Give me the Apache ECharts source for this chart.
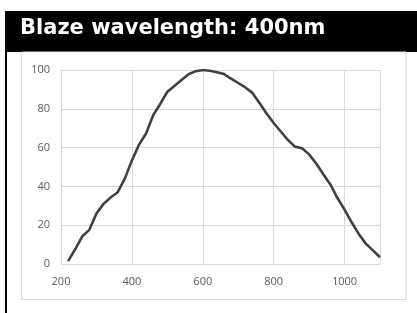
<!DOCTYPE html>
<html><head><meta charset="utf-8">
<script src="https://cdn.jsdelivr.net/npm/echarts@6/dist/echarts.min.js"></script>
<style>html,body{margin:0;padding:0;background:#fff}#c{width:417px;height:313px}</style>
</head><body><div id="c"></div>
<script>
const titleText = "Blaze wavelength: 400nm";
const wavelengths = [220,240,260,280,300,320,340,360,380,400,420,440,460,480,500,520,540,560,580,600,620,640,660,680,700,720,740,760,780,800,820,840,860,880,900,920,940,960,980,1000,1020,1040,1060,1080,1100];
const efficiency = [1.5,7.6,14.3,17.6,26,31,34.3,37,44,53.3,61.5,67.3,76.7,82.5,88.8,91.8,94.8,97.8,99.4,100,99.6,98.8,97.9,95.5,93.3,91,88.2,83,77.6,72.7,68.3,64,60.5,59.7,56.5,51.8,46.3,41,34,28,21.5,15.5,10.5,7,3.5];
const xTicks = [200,400,600,800,1000];
const yTicks = [0,20,40,60,80,100];

const chart = echarts.init(document.getElementById('c'), null, {renderer:'canvas'});
const font = '"Open Sans", sans-serif';
chart.setOption({
  animation:false,
  backgroundColor:'#fff',
  graphic:[
    {type:'rect', shape:{x:5,y:11,width:412,height:41}, style:{fill:'#000'}, z:0},
    {type:'rect', shape:{x:5,y:11,width:2,height:302}, style:{fill:'#000'}, z:0},
    {type:'rect', shape:{x:21.5,y:52,width:384.5,height:247.5}, style:{fill:'#fff',stroke:'#d9d9d9',lineWidth:1}, z:0},
    {type:'text', x:20, y:29, style:{text:titleText, fill:'#fff', font:'bold 21px "DejaVu Sans", sans-serif', verticalAlign:'middle'}, z:10}
  ],
  grid:{left:61,right:37,top:70,bottom:49,show:true,borderWidth:0,
    backgroundColor:new echarts.graphic.LinearGradient(0,0,0,1,[{offset:0,color:'#ffffff'},{offset:1,color:'#efefef'}])},
  xAxis:{type:'value',min:200,max:1100,interval:200,
    axisLine:{show:false},axisTick:{show:false},
    splitLine:{show:true,lineStyle:{color:'#d9d9d9',width:1}},
    axisLabel:{color:'#595959',fontSize:11,fontFamily:font,margin:12,showMaxLabel:false,
      formatter:v=>xTicks.includes(v)?String(v):''}},
  yAxis:{type:'value',min:0,max:100,interval:20,
    axisLine:{show:false},axisTick:{show:false},
    splitLine:{show:true,lineStyle:{color:'#d9d9d9',width:1}},
    axisLabel:{color:'#595959',fontSize:11,fontFamily:font,margin:11,
      formatter:v=>yTicks.includes(v)?String(v):''}},
  series:[{type:'line',data:wavelengths.map((w,i)=>[w,efficiency[i]]),
    showSymbol:false,smooth:false,lineStyle:{color:'#404040',width:2.6},z:5}]
});
</script></body></html>
